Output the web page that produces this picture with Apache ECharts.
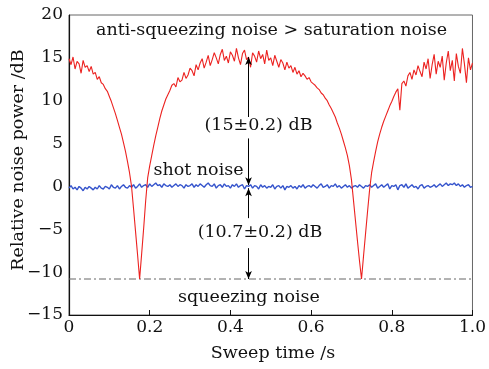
<!DOCTYPE html>
<html>
<head>
<meta charset="utf-8">
<script src="https://cdn.jsdelivr.net/npm/echarts@6/dist/echarts.min.js"></script>
<style>
html,body{margin:0;padding:0;background:#fff;}
#chart{width:489px;height:369px;}
</style>
</head>
<body>
<div id="chart"></div>
<script>
// ---- Data ----
const sweepTime = [
0,0.005,0.01,0.015,0.02,0.025,0.03,0.035,0.04,0.045,
0.05,0.055,0.06,0.065,0.07,0.075,0.08,0.085,0.09,0.095,
0.1,0.105,0.11,0.115,0.12,0.125,0.13,0.135,0.14,0.145,
0.15,0.155,0.16,0.165,0.17,0.175,0.18,0.185,0.19,0.195,
0.2,0.205,0.21,0.215,0.22,0.225,0.23,0.235,0.24,0.245,
0.25,0.255,0.26,0.265,0.27,0.275,0.28,0.285,0.29,0.295,
0.3,0.305,0.31,0.315,0.32,0.325,0.33,0.335,0.34,0.345,
0.35,0.355,0.36,0.365,0.37,0.375,0.38,0.385,0.39,0.395,
0.4,0.405,0.41,0.415,0.42,0.425,0.43,0.435,0.44,0.445,
0.45,0.455,0.46,0.465,0.47,0.475,0.48,0.485,0.49,0.495,
0.5,0.505,0.51,0.515,0.52,0.525,0.53,0.535,0.54,0.545,
0.55,0.555,0.56,0.565,0.57,0.575,0.58,0.585,0.59,0.595,
0.6,0.605,0.61,0.615,0.62,0.625,0.63,0.635,0.64,0.645,
0.65,0.655,0.66,0.665,0.67,0.675,0.68,0.685,0.69,0.695,
0.7,0.705,0.71,0.715,0.72,0.725,0.73,0.735,0.74,0.745,
0.75,0.755,0.76,0.765,0.77,0.775,0.78,0.785,0.79,0.795,
0.8,0.805,0.81,0.815,0.82,0.825,0.83,0.835,0.84,0.845,
0.85,0.855,0.86,0.865,0.87,0.875,0.88,0.885,0.89,0.895,
0.9,0.905,0.91,0.915,0.92,0.925,0.93,0.935,0.94,0.945,
0.95,0.955,0.96,0.965,0.97,0.975,0.98,0.985,0.99,0.995,
1.0
];

const quadratureNoise = [
14.9,14.2,15.1,13.7,14.6,14.3,13.2,14.7,13.9,14.1,
13.4,14.0,13.1,13.3,12.5,12.8,12.1,11.9,11.4,11.1,
10.5,9.9,9.2,8.5,7.7,6.9,6.1,5.1,4.1,2.9,
1.6,0.0,-2.6,-5.3,-8.0,-10.8,-7.9,-4.9,-1.7,1.0,
2.4,3.6,4.8,5.9,6.9,7.9,8.8,9.5,10.2,10.7,
11.2,11.8,12.0,11.6,12.7,12.2,12.4,13.3,12.6,13.0,
13.8,13.5,12.9,14.2,13.6,14.4,14.9,13.8,14.5,15.3,
14.1,14.8,15.6,15.0,14.3,15.4,16.0,14.7,15.2,14.4,
15.7,15.3,14.6,16.1,15.0,14.2,15.5,15.9,14.8,15.1,
13.9,15.6,15.2,14.5,15.8,14.9,15.4,14.3,15.9,14.7,
15.0,14.1,15.3,14.6,13.9,14.8,14.4,13.6,14.5,13.8,
14.1,13.3,13.9,13.1,13.5,12.8,13.2,12.9,12.5,12.7,
12.2,12.0,11.8,11.5,11.3,10.9,10.7,10.3,10.0,9.5,
9.1,8.6,8.1,7.4,6.8,6.1,5.3,4.5,3.6,2.4,
0.8,-1.6,-4.0,-6.4,-8.7,-10.8,-8.1,-5.5,-2.9,-0.4,
1.6,2.9,4.1,5.2,6.1,6.9,7.6,8.2,8.8,9.4,
9.9,10.5,11.0,11.4,8.9,12.0,12.3,11.7,12.9,13.3,
12.5,13.6,13.0,14.1,13.4,12.8,14.5,13.7,14.9,12.6,
14.2,15.4,13.1,14.6,13.9,15.2,12.4,14.4,15.8,13.5,
14.7,12.3,15.5,14.0,13.2,16.1,14.3,12.1,15.0,13.6,
14.4
];

const shotNoise = [
-0.2,0.1,-0.3,-0.1,-0.4,0.0,-0.2,-0.5,-0.1,-0.3,
0.0,-0.2,-0.4,-0.1,-0.3,0.1,-0.2,-0.3,0.0,-0.1,
-0.3,0.2,-0.1,-0.2,0.1,-0.3,0.0,0.2,-0.1,-0.2,
0.1,-0.1,0.2,-0.2,0.0,0.3,-0.1,0.1,0.2,-0.1,
0.3,0.0,0.2,0.4,0.1,0.2,-0.1,0.3,0.1,0.0,
0.2,-0.1,0.1,0.3,0.0,0.2,0.1,-0.2,0.2,0.0,
0.1,0.3,-0.1,0.2,0.0,0.3,0.1,-0.1,0.2,0.4,
0.1,0.0,0.3,-0.2,0.1,0.2,-0.1,0.3,0.0,0.1,
-0.2,0.2,0.0,0.3,-0.1,0.1,0.2,-0.3,0.1,0.0,
0.2,-0.2,0.1,0.0,-0.3,0.2,-0.1,0.1,-0.2,0.0,
-0.1,0.2,-0.3,0.0,0.1,-0.2,0.1,-0.4,0.0,-0.1,
0.1,-0.2,0.0,-0.3,0.1,-0.1,0.2,-0.2,0.0,0.1,
-0.1,0.2,0.0,-0.2,0.1,0.3,-0.1,0.0,0.2,-0.2,
0.1,0.0,0.3,-0.1,0.1,-0.2,0.0,0.2,-0.1,0.1,
-0.2,0.0,0.1,-0.1,0.2,0.0,-0.2,0.1,0.0,0.2,
-0.1,0.1,0.3,-0.2,0.0,0.2,-0.1,0.1,0.3,-0.3,
0.1,0.0,0.2,-0.4,0.1,0.2,-0.1,0.3,-0.2,0.0,
0.2,-0.1,0.0,-0.3,0.1,0.2,-0.2,0.0,0.1,-0.1,
0.0,0.2,-0.1,0.1,0.3,0.0,0.2,0.4,0.1,0.3,
0.2,0.4,0.1,0.3,0.0,0.2,-0.1,0.1,0.2,-0.1,
0.0
];

const squeezeLevel = -10.8;
const squeezeLineX = [0, 1];

const xTickValues = [0, 0.2, 0.4, 0.6, 0.8, 1.0];
const xTickLabels = ['0', '0.2', '0.4', '0.6', '0.8', '1.0'];
const yTickValues = [-15, -10, -5, 0, 5, 10, 15, 20];
const yTickLabels = ['\u221215', '\u221210', '\u22125', '0', '5', '10', '15', '20'];

// annotation arrow (data units)
const arrowX = 0.445;
const antiTop = 15.1, antiTextTop = 8.1, antiTextBottom = 5.6, shotLevel = 0.15;
const shotLevelLow = -0.2, sqTextTop = -3.7, sqTextBottom = -7.2;

// ---- Chart ----
const chart = echarts.init(document.getElementById('chart'), null, {renderer: 'canvas'});
const FONT = '"DejaVu Serif", "Liberation Serif", serif';

const redData = sweepTime.map((t, i) => [t, quadratureNoise[i]]);
const blueData = sweepTime.map((t, i) => [t, shotNoise[i]]);
const sqData = squeezeLineX.map(t => [t, squeezeLevel]);

function lbl(vals, labels) {
  return function (v) {
    for (let i = 0; i < vals.length; i++) if (Math.abs(vals[i] - v) < 1e-6) return labels[i];
    return '';
  };
}

const arrowLine = {color: '#000', width: 1, type: 'solid'};
chart.setOption({
  animation: false,
  backgroundColor: '#fff',
  grid: {left: 69, right: 16, top: 15, bottom: 54, show: true, borderColor: '#666', borderWidth: 1, backgroundColor: 'transparent'},
  xAxis: {
    type: 'value', min: 0, max: 1, interval: 0.2,
    axisLine: {show: true, onZero: false, lineStyle: {color: '#111', width: 1.2}},
    axisTick: {show: true, inside: true, length: 5, lineStyle: {color: '#111'}},
    splitLine: {show: false},
    axisLabel: {formatter: lbl(xTickValues, xTickLabels), fontFamily: FONT, fontSize: 17, color: '#111', margin: 4}
  },
  yAxis: {
    type: 'value', min: -15, max: 20, interval: 5,
    axisLine: {show: true, onZero: false, lineStyle: {color: '#111', width: 1.2}},
    axisTick: {show: false},
    splitLine: {show: false},
    axisLabel: {formatter: lbl(yTickValues, yTickLabels), fontFamily: FONT, fontSize: 17, color: '#111', margin: 6}
  },
  series: [
    {
      type: 'line', data: sqData, showSymbol: false, silent: true,
      lineStyle: {color: '#666', width: 1, type: [7, 3, 2, 3]}, z: 1
    },
    {
      type: 'line', data: blueData, showSymbol: false, silent: true,
      lineStyle: {color: '#3554cc', width: 1.4}, z: 2
    },
    {
      type: 'line', data: redData, showSymbol: false, silent: true,
      lineStyle: {color: '#ec2220', width: 1.1}, z: 3,
      markLine: {
        silent: true, animation: false,
        symbolSize: [5, 8],
        label: {show: false},
        lineStyle: arrowLine,
        emphasis: {disabled: true},
        data: [
          [{coord: [arrowX, antiTop], symbol: 'arrow'}, {coord: [arrowX, antiTextTop], symbol: 'none'}],
          [{coord: [arrowX, antiTextBottom], symbol: 'none'}, {coord: [arrowX, shotLevel], symbol: 'arrow'}],
          [{coord: [arrowX, shotLevelLow], symbol: 'arrow'}, {coord: [arrowX, sqTextTop], symbol: 'none'}],
          [{coord: [arrowX, sqTextBottom], symbol: 'none'}, {coord: [arrowX, squeezeLevel], symbol: 'arrow'}]
        ]
      }
    }
  ],
  graphic: [
    {type: 'text', x: 271.5, y: 30, style: {text: 'anti-squeezing noise > saturation noise', font: '17.5px ' + FONT, fill: '#111', textAlign: 'center', textVerticalAlign: 'middle'}},
    {type: 'text', x: 198.5, y: 170, style: {text: 'shot noise', font: '17.5px ' + FONT, fill: '#111', textAlign: 'center', textVerticalAlign: 'middle'}},
    {type: 'text', x: 258.5, y: 125, style: {text: '(15\u00b10.2) dB', font: '17.5px ' + FONT, fill: '#111', textAlign: 'center', textVerticalAlign: 'middle'}},
    {type: 'text', x: 260, y: 232, style: {text: '(10.7\u00b10.2) dB', font: '17.5px ' + FONT, fill: '#111', textAlign: 'center', textVerticalAlign: 'middle'}},
    {type: 'text', x: 249, y: 297, style: {text: 'squeezing noise', font: '17.5px ' + FONT, fill: '#111', textAlign: 'center', textVerticalAlign: 'middle'}},
    {type: 'text', x: 273, y: 353, style: {text: 'Sweep time /s', font: '17.5px ' + FONT, fill: '#111', textAlign: 'center', textVerticalAlign: 'middle'}},
    {type: 'text', x: 18, y: 160, rotation: Math.PI / 2, style: {text: 'Relative noise power /dB', font: '17.5px ' + FONT, fill: '#111', textAlign: 'center', textVerticalAlign: 'middle'}}
  ]
});
</script>
</body>
</html>
